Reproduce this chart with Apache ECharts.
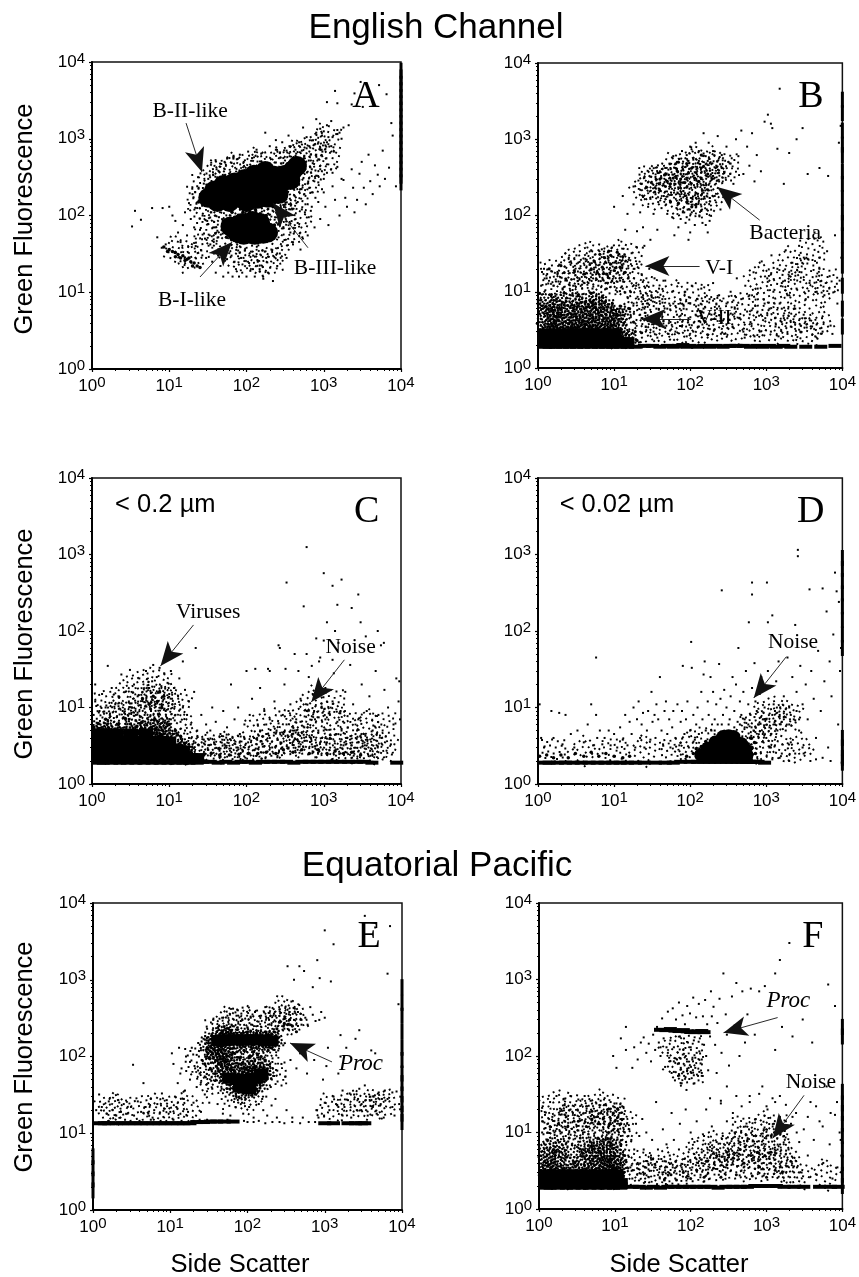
<!DOCTYPE html>
<html><head><meta charset="utf-8">
<style>html,body{margin:0;padding:0;background:#fff}#c{width:859px;height:1277px}</style>
<script src="https://cdn.jsdelivr.net/npm/echarts@6/dist/echarts.min.js"></script>
</head><body><div id="c"></div>
<script>
const tickLabels = {1:'10{s|0}',10:'10{s|1}',100:'10{s|2}',1000:'10{s|3}',10000:'10{s|4}'};
const panelNames = ['A','B','C','D','E','F'];
// All positions below are estimates. The source has thousands of events,
// so the "solid", "core" and "clump" arrays hold the centres of dense patches, each drawn with
// a filled or speckled symbol; the "dots" arrays are single events.

// ---------- Panel A ----------
const A_solid = [];
const A_core = [[32,170],[38,210],[42,150],[50,190],[50,250],[60,150],[65,210],[70,270],[80,170],[90,220],[95,300],[100,150],[115,190],[120,260],[125,340],[140,165],[155,220],[165,300],[175,380],[190,170],[215,240],[230,330],[260,190],[285,270],[320,340],[370,290],[400,390],[450,440],
[62,72],[75,60],[88,80],[98,60],[112,70],[128,56],[145,66],[165,58],[190,60],[92,56],[120,85],[150,80]];
const A_mid = [[24,150],[26,185],[28,140],[33,220],[38,260],[44,130],[50,290],[58,300],[66,135],[78,310],[90,140],[100,320],[115,130],[130,340],[160,150],[200,350],[230,170],[260,390],[300,210],[350,240],[430,290],[480,360],[520,430],[450,470],[90,110],[70,95],[110,110],[150,105],[55,52],[75,45],[110,45],[150,45],[210,50],[230,75],[50,85],[180,100],[220,130],[130,120],[65,110],[95,100],
[12,33],[13,31],[15,30],[17,27],[19,25],[21,24],[23,22],[10,36],[11,34],[14,28],[8.5,39],[9.5,34],[12,29],[16,26],[18,28],[20,22],[25,21]];
const A_clumps = [[24,170],[30,120],[28,250],[38,330],[52,380],[70,420],[100,450],[140,480],[200,480],[280,500],[380,560],[480,620],[800,800],[1100,1050],[500,350],[640,300],[350,200],[450,170],[260,130],[300,100],[200,100],[70,110],[45,90],[30,70],[50,45],[30,40],[70,30],[110,28],[150,25],[200,25],[250,40],[350,60],[450,80],[18,28],[13,35],[100,100],[140,110],[800,450],[1100,600]];
const A_floor = [];
const A_dots = [[3.3,72],[3.6,115],[4.3,88],[6,125],[7,52],[8.2,125],[10,130],[9,42],[8,38],[11,100],[12,85],[13,60],[15,75],[14,45],[16,110],[17,55],[18,145],[19,90],[20,190],[21,70],[22,40],[23,125],[24,230],[25,65],[26,35],[27,100],[28,260],[29,50],[30,28],[31,85],[32,300],[34,42],[35,110],[36,25],[37,340],[39,70],[40,18],[41,400],[42,32],[44,95],[46,22],[47,470],[49,58],[50,16],[52,500],[54,38],[56,27],[58,18],[60,560],[62,100],[64,30],[66,16],[68,600],[70,25],[73,20],[75,540],[78,35],[80,16],[82,620],[85,28],[88,18],[92,500],[95,35],[100,16],[105,680],[108,24],[112,19],[118,560],[122,30],[128,16],[135,720],[140,25],[148,20],[155,640],[160,35],[165,15],[175,1200],[180,28],[190,18],[200,800],[210,36],[220,14],[240,960],[250,22],[270,32],[290,900],[310,48],[330,28],[350,1100],[370,60],[400,42],[430,720],[460,80],[500,36],[540,1400],[570,110],[620,55],[650,800],[700,130],[760,70],[800,1800],[850,150],[900,90],[950,1100],[1000,200],[1050,130],[1100,900],[1150,75],[1250,1700],[1300,240],[1400,160],[1500,1300],[1600,100],[1700,1000],[1800,290],[1900,170],[2000,130],[2100,1500],[2300,400],[2400,230],[2500,110],[2700,160],[2900,350],[3100,500],[3300,230],[3500,140],[3800,620],[4000,280],[4300,190],[4600,450],[5000,340],[5300,240],[5800,700],[6200,300],[7000,420],[7800,1100],[8600,240],
[240,720],[270,650],[300,560],[330,700],[360,800],[400,560],[440,640],[480,900],[520,700],[560,600],[600,750],[640,520],[680,620],[720,480],[760,840],[800,620],[850,540],[900,760],[960,680],[1050,820],[1150,1050],[1250,800],[1350,680],[1450,1150],[600,1050],[700,950],[800,1200],[900,1350],[1000,1250],[1100,1500],[1300,1050],[1600,1200],[1800,1400],[700,400],[800,330],[900,400],[1000,300],[1100,360],[1300,360],[1500,430],[1700,300],[500,220],[560,190],[620,260],[700,200],[780,170],[850,270],[950,220],[320,140],[370,120],[420,180],[460,150],[520,120],[580,140],[640,95],[680,115],
[1400,4200],[1100,3000],[2500,3900],[3000,5500],[5200,5000],[6500,3800],[1500,2900],[2300,2800],[7500,1600],[3200,2600]];
const A_edge = [[10000,270],[10000,330],[10000,400],[10000,490],[10000,600],[10000,730],[10000,890],[10000,1080],[10000,1320],[10000,1600],[10000,1950],[10000,2400],[10000,2900],[10000,3500],[10000,4300],[10000,5200],[10000,6300],[10000,7700]];

// ---------- Panel B ----------
const B_solid = [[1.25,2.15],[1.6,2.15],[2,2.15],[2.5,2.15],[3.2,2.15],[4,2.15],[5,2.15],[6.4,2.15],[8,2.15],[10,2.15],[12.5,2.15],[15,2.15],
[1.25,2.8],[1.6,2.8],[2.1,2.8],[2.6,2.8],[3.4,2.8],[4.2,2.8],[5.2,2.8],[6.4,2.8],[8.2,2.8],[10.2,2.8]];
const B_core = [[1.3,2.4],[1.45,2.5],[1.8,2.4],[2.2,2.55],[2.8,2.4],[3.5,2.5],[4.4,2.4],[5.5,2.55],[6.8,2.4],[8.5,2.5],[10.5,2.4],[13,2.5],[16,2.4],
[1.3,3.1],[1.5,3.2],[1.85,3],[2.4,3.2],[3,3],[3.8,3.2],[4.8,3],[6,3.2],[7.5,3],[9.5,3.2],[12,3],
[1.3,3.9],[1.55,4],[2,3.8],[2.6,4.1],[3.3,3.8],[4.2,4.1],[5.4,3.8],[6.8,4],[8.6,3.8],[11,4],
[1.3,5],[1.65,5.1],[2.2,4.9],[3,5.2],[3.9,4.9],[5,5.2],[6.5,4.9],[8.5,5.1],[11,4.9],[13.5,5.2],
[1.3,6.3],[1.7,6.5],[2.4,6.2],[3.4,6.6],[4.6,6.1],[6.2,6.5],[8.3,6.1],
[1.3,7.6],[1.9,7.6],[2.9,7.8],[4.2,7.6],[6,7.5]];
const B_mid = [[1.05,9.5],[1.5,9.2],[2.2,9.6],[3.4,9.2],[5,9.5],[7,8.5],[9.5,7],[12,6.5],[16,6],[18,4],[19,3],[20,2.3],[23,2.9],
[1.4,20],[2,22],[3,19],[4,17],[5,20],[6,18],[7,21],[8,17],[9,23],[10,19],[12,21],[14,18],[5.5,25],[7.5,28],[9,30],[6.5,31],[8.5,34],[11,33],[13,29],
[40,300],[46,340],[50,280],[55,260],[60,310],[68,380],[75,300],[85,270],[95,360],[105,420],[115,310],[130,280],[150,440],[170,350],[70,500],[90,480],[140,620],
[55,150],[70,145],[90,150],[105,130],[120,140]];
const B_clumps = [[1.6,13],[2.4,13],[3.7,13],[6,13],[9.5,13],[14,13],[1.6,19],[2.6,20],[4.2,19],[6.6,20],[10,20],[15,19],[3.6,28],[6,30],[10,30],[16,30],[22,9],[20,5],[25,3],[33,6],[42,3],[55,5],[75,3],[100,5],[130,3],[175,6],[230,3.2],[300,6],[400,3.2],[520,7],[700,3.5],[900,7],[1200,3.2],[1600,6],[2100,3.2],[2800,5],[3700,3],[5000,4],[30,11],[60,9],[120,9],[800,15],[1500,14],[2500,12],[3500,20],[5000,10],[6000,14],[2000,25],[4000,35],
[35,280],[50,330],[70,300],[100,320],[140,340],[190,350],[60,430],[90,470],[130,520],[55,210],[75,230],[110,240],[160,230],[65,145],[100,140],[25,220],[30,300],[35,190],[250,400],[200,500],[300,450],[170,160],[130,130]];
const B_floor = [[1.25,1.9],[1.4,1.9],[1.7,1.9],[2.1,1.9],[2.6,1.9],[3.2,1.9],[4,1.9],[5,1.9],[6.2,1.9],[7.7,1.9],[9.5,1.9],[12,1.9],[15,1.9],[19,1.9],[25,1.95],[32,1.95],[40,1.9],[50,1.95],[60,1.9],[70,1.95],[80,2],[90,1.9],[100,1.95],[125,1.9],[150,1.95],[180,1.9],[220,1.95],[270,1.9],[330,1.95],[400,1.95],[500,1.95],[620,1.9],[750,1.95],[900,1.9],[1100,1.95],[1350,1.9],[1700,1.95],[2100,1.9],[3300,1.9],[5200,1.9],[8000,1.95]];
const B_dots = [[1.1,12],[1.3,15],[1.2,20],[1.6,12],[1.8,17],[2.1,11],[2.4,14],[2.7,25],[2.9,12],[3.2,30],[3.5,15],[3.8,11],[4.2,27],[4.6,13],[5,35],[5.2,11],[5.8,15],[6.2,12],[6.9,36],[7.3,14],[7.9,11],[8.7,15],[9.4,38],[10,13],[10.5,25],[11,10],[12,14],[13,11],[14,25],[15,8.5],[15.5,15],[16.5,10],[17,32],[18,7],[18.5,20],[19.5,12],[20,38],[21,8],[22,5],[23,17],[24,9],[25,6],[26,3.5],[27,12],[28,7],[29,20],[30,4.5],[31,9],[33,3],[34,15],[36,6],[37,2.5],[39,11],[41,5],[43,8],[45,3.5],[47,14],[50,6],[52,2.8],[55,4],[58,10],[60,7],[64,3],[67,5],[70,13],[74,8],[78,3.5],[82,6],[86,10],[90,2.6],[95,4.5],[100,7],[105,12],[110,3],[118,5],[125,8],[130,3.5],[140,11],[150,6],[160,4],[170,2.7],[180,8],[190,5],[200,13],[210,3.2],[225,6],[240,9],[260,4],[280,2.8],[300,7],[320,5],[340,10],[360,3.5],[385,6],[410,15],[440,4.5],[470,8],[500,3],[530,12],[560,5.5],[600,9],[640,3.8],[680,18],[720,6.5],[770,11],[820,3],[870,25],[920,8],[970,4.5],[1030,15],[1100,6],[1170,30],[1240,10],[1320,3.5],[1400,20],[1500,7],[1600,13],[1700,4.5],[1800,35],[1900,9],[2000,16],[2100,3.5],[2200,24],[2400,6],[2500,11],[2700,40],[2900,18],[3100,5],[3300,8],[3500,27],[3700,13],[4000,3.5],[4300,60],[4600,10],[5000,20],[5400,4.5],[5800,9],[6300,34],[6800,16],[7400,2.8],[8000,55],[8600,7],[9200,14],[9700,28],
[520,2.5],[620,4],[700,2.6],[850,5],[950,7],[1150,3],[1300,4.5],[1450,2.6],[1600,6],[1900,2.8],[2300,4],[2800,3],[3400,3.4],[4400,2.6],[5500,3],[7000,3.6],
[10,130],[13,180],[15,105],[14,65],[18,140],[18,240],[20,62],[22,110],[24,175],[24,70],[25,40],[26,230],[28,130],[30,165],[30,48],[32,260],[33,105],[35,190],[35,320],[37,65],[38,150],[40,220],[40,380],[42,125],[45,180],[47,420],[48,240],[50,105],[52,340],[54,470],[56,200],[58,95],[60,600],[62,250],[64,420],[66,125],[68,200],[70,70],[72,550],[75,230],[78,700],[80,110],[82,350],[85,180],[87,80],[90,620],[92,240],[95,48],[98,410],[100,800],[102,170],[105,110],[110,540],[112,250],[115,75],[118,900],[120,360],[125,190],[130,700],[132,100],[135,470],[140,250],[145,80],[150,1200],[155,380],[160,600],[165,120],[170,220],[175,900],[180,85],[185,500],[190,310],[200,700],[210,180],[220,450],[230,1100],[240,280],[250,120],[260,620],[280,360],[300,800],[320,160],[340,480],[370,260],[400,1000],[430,600],[470,1300],[500,350],[560,800],[600,450],[650,1200],[700,280],[750,620],[850,380],[950,1700],[1050,2100],[1150,1600],[1200,1400],[1500,4600],[1400,750],[1700,260],[2000,660],[2500,1000],[3000,1400],[3500,350],[5000,420],[6500,330],[9000,900],[9500,1500],
[150,650],[170,520],[130,520],[110,430],[95,520],[80,440],[65,330],[55,420],[120,170],[150,200],[180,170],[200,330],[240,390],[260,420],[120,130],[140,115],[160,75],[170,60],[90,95],[100,60],[62,55],[75,90]];
const B_edge = [[10000,3.5],[10000,6],[10000,12],[10000,22],[10000,35],[10000,55],[10000,80],[10000,110],[10000,170],[10000,260],[10000,380],[10000,620],[10000,850],[10000,1300],[10000,2200],[10000,3300]];

// ---------- Panel C ----------
const C_solid = [[1.25,2.15],[1.6,2.15],[2,2.15],[2.5,2.15],[3.2,2.15],[4,2.15],[5,2.15],[6.4,2.15],[8,2.15],[10,2.15],[12.5,2.15],[15.5,2.15],[19,2.15],[23,2.15],
[1.25,2.8],[1.6,2.8],[2,2.8],[2.5,2.8],[3.2,2.8],[4,2.8],[5,2.8],[6.4,2.8],[8,2.8],[10,2.8],[12.5,2.8],[15,2.7],
[1.25,3.6],[1.6,3.6],[2,3.6],[2.5,3.6],[3.2,3.6],[4,3.6],[5,3.6],[6.4,3.6],[8,3.6],[10,3.5],
[1.25,4.5],[1.6,4.5],[2.1,4.5],[3.2,4.5],[5,4.5]];
const C_core = [[1.3,2.4],[1.45,2.5],[1.8,2.4],[2.3,2.5],[2.9,2.4],[3.7,2.5],[4.7,2.4],[6,2.5],[7.6,2.4],[9.6,2.5],[12,2.4],[15,2.4],[18,2.35],
[1.3,3],[1.45,3.1],[1.8,3],[2.3,3.1],[2.9,3],[3.7,3.1],[4.7,3],[6,3.1],[7.6,3],[9.6,3.1],[12,3],[15,2.9],
[1.3,3.7],[1.45,3.8],[1.8,3.6],[2.3,3.8],[2.9,3.7],[3.7,3.8],[4.7,3.7],[6,3.8],[7.6,3.7],[9.6,3.8],[12,3.6],
[1.3,4.5],[1.5,4.6],[2.1,4.4],[2.9,4.6],[3.9,4.5],[5.2,4.7],[7,4.5],[9.2,4.7],
[1.3,5.4],[1.7,5.5],[3.4,5.6],[5.8,5.8],[8,5.6]];
const C_mid = [[1.05,5.5],[1.2,6.2],[1.5,7],[2.2,6],[2.7,7.2],[4.4,6.4],[6.5,7],[10,6],[12,5],[14,4.2],[16,3.4],[19,2.6],[23,2.4],[28,2.4],[35,2.5],[45,2.4],[60,2.4],[80,2.45],[105,2.5],[140,2.5],[180,2.6],[240,2.5],[300,2.8],[400,2.6],[520,2.8],[650,2.5],[850,2.8],[1100,2.5],[1400,2.7],[1800,2.5],[2300,2.6],[3000,2.4],[6.2,14],[7.5,16],[7,12],[8.5,14],[5.5,11],[8,10],[4.5,13]];
const C_clumps = [[1.6,7.5],[2.3,8.5],[3.6,8],[5.5,9],[8,9],[12,7],[1.6,12],[2.6,13],[4.2,13],[6.2,14],[9,13],[13,11],[4,20],[7,22],[17,4],[22,3],[28,3],[38,3],[50,3],[66,3],[88,3],[115,3],[150,3],[200,3.2],[260,3.5],[340,3.4],[440,3.6],[570,3.4],[740,3.5],[960,3.4],[1250,3.2],[1600,3.2],[2100,3],[2800,2.9],[3700,2.8],[5000,3],[6000,3],[150,6],[300,6.5],[500,7],[800,7.5],[1300,7],[2200,6],[3800,6],[6000,6],[700,12],[1300,12],[6,6],[3,5.8]];
const C_floor = [[1.25,1.9],[1.4,1.9],[1.8,1.9],[2.3,1.9],[2.9,1.9],[3.7,1.9],[4.7,1.9],[6,1.9],[7.6,1.9],[9.6,1.9],[12,1.9],[15,1.9],[18,1.9],[23,1.9],[27,1.95],[34,1.95],[43,1.9],[54,1.95],[68,1.9],[85,1.95],[105,1.95],[130,1.9],[165,1.95],[205,1.95],[260,1.95],[330,1.95],[410,1.9],[520,1.95],[650,1.95],[820,1.95],[1030,1.95],[1300,1.95],[1650,1.95],[2100,1.95],[2650,1.95],[3300,1.95],[4200,1.9],[8800,1.9]];
const C_dots = [[1.05,8],[1.1,12],[1.1,20],[1.25,9],[1.35,15],[1.5,10],[1.6,35],[1.7,8],[1.8,18],[2,11],[2.1,7.5],[2.2,14],[2.4,27],[2.5,9],[2.7,16],[2.9,8],[3,12],[3.1,31],[3.3,10],[3.5,20],[3.7,8],[3.9,14],[4.1,24],[4.3,10],[4.5,16],[4.8,8],[5,30],[5.2,12],[5.5,18],[5.8,9],[6,22],[6.2,36],[6.6,11],[6.9,25],[7.2,8],[7.5,33],[7.9,19],[8.2,12],[8.6,28],[9,9],[9.5,21],[10,15],[10.5,30],[10.5,7],[11,11],[11.5,18],[12,8],[13,14],[13.5,24],[14,6.5],[15,10],[15,40],[16,17],[16,5],[17,8],[18,12],[18,4],[19,6],[20,3.3],[21,16],[22,60],[23,5],[24,3.2],[26,8],[28,3.8],[30,6],[32,2.8],[34,5],[36,10],[38,3.5],[40,6.5],[43,2.9],[46,4.5],[50,9],[52,3.3],[56,5.5],[60,2.9],[63,20],[66,4],[70,7],[74,3],[78,10],[82,4.5],[88,2.8],[94,6],[100,30],[105,3.5],[110,8],[118,13],[125,4],[132,2.9],[140,6],[150,18],[160,3.3],[170,9],[180,4.5],[190,32],[200,7],[215,3],[230,12],[245,5],[260,65],[275,3.5],[295,8],[310,20],[330,6],[350,3],[370,11],[390,4.5],[420,50],[440,7],[470,30],[500,13],[530,3.5],[560,5.5],[600,9],[640,25],[680,4],[720,15],[770,7],[820,3.2],[870,40],[930,10],[1000,5],[1050,18],[1100,3.5],[1200,8],[1300,12],[1350,28],[1450,4.5],[1550,70],[1650,9],[1800,3.2],[1900,16],[2050,5.5],[2200,36],[2400,11],[2600,4],[2800,7],[3100,20],[3400,3.2],[3600,9],[3900,14],[4300,5],[4700,30],[5100,8],[5600,4],[6100,17],[6800,10],[7400,3.3],[8000,6],[8700,24],[9300,12],[9700,7],
[600,1250],[1000,570],[1300,390],[1700,470],[330,430],[1500,220],[2800,300],[2300,200],[550,210],[1100,130],[3000,130],[1400,100],[5000,100],[270,60],[800,80],[1000,75],[3500,85],[5500,65],[6000,70],[9500,22],[700,35],[900,45],[600,50],[200,30],[320,32],[130,32],[1300,42],
[150,5],[180,6],[200,4],[260,6.2],[300,4.5],[350,9],[420,5],[450,3.8],[500,6.5],[550,4.4],[620,5.5],[700,3.3],[750,9],[850,5],[950,4],[1050,7],[1200,4],[1500,6.5],[1700,5],[2000,4],[2300,3.2],[2700,5],[3300,4.5],[5000,3]];
const C_edge = [];

// ---------- Panel D ----------
const D_solid = [];
const D_core = [[140,2.4],[170,2.45],[205,2.4],[250,2.45],[300,2.4],[350,2.45],[410,2.4],[480,2.4],[550,2.4],
[170,2.9],[205,3],[250,2.9],[300,3],[350,2.9],[410,3],[480,2.9],[530,2.8],
[215,3.5],[260,3.6],[310,3.5],[360,3.6],[420,3.4],[470,3.3],[270,4.1],[320,4.2],[370,4.1]];
const D_mid = [[1.05,2.3],[1.3,2.4],[1.6,2.2],[2,2.4],[2.5,2.2],[3.1,2.5],[4,2.3],[5,2.6],[6.3,2.3],[7.8,2.5],[10,2.3],[13,2.2],[16,2.3],[90,2.3],[110,2.5],[120,2.9],[140,3.1],[160,3.6],[200,4],[280,4.9],[340,4.8],[430,4.4],[500,3.8],[560,3.4],[600,2.6],[650,3],[700,3.5],[620,4],[720,2.5]];
const D_clumps = [[1.6,2.7],[4,2.7],[10,2.7],[25,2.7],[60,2.7],[100,3],[150,4],[560,4.5],[700,6],[1000,5],[1400,7],[2000,8],[1100,9],[600,2.8],[800,3],[1500,3],[2600,3]];
const D_floor = [[1.25,1.9],[1.4,1.9],[1.8,1.9],[2.3,1.9],[2.9,1.9],[3.7,1.9],[4.7,1.9],[6,1.9],[7.6,1.9],[9.6,1.9],[12,1.9],[15,1.9],[19,1.9],[25,1.9],[35,1.9],[47,1.9],[60,1.9],[75,1.95],[100,1.95],[125,1.95],[150,1.95],[180,1.95],[210,1.95],[250,1.95],[300,1.95],[350,1.95],[410,1.95],[480,1.95],[550,1.95],[600,1.95],[680,1.95],[780,1.95],[950,1.9]];
const D_dots = [[1.05,11],[1.1,4],[1.2,3],[1.5,9],[1.6,4],[1.9,8.5],[2.1,3.3],[2.3,8],[2.7,4.5],[3,3],[3.3,5],[4,3.5],[4.5,6],[5,11],[5.3,3.2],[5.8,45],[5.8,8],[6,4],[6.5,5],[7,3.3],[7.5,4],[8.5,5],[9,3.2],[10,4.5],[11,3],[12,5.5],[13,3.8],[14,8],[15,3.2],[16,6.5],[17,4.5],[18,10],[19,3],[20,7],[21,12],[22,4],[23,6],[24,8.5],[25,3],[27,5],[28,9],[30,3.8],[31,16],[32,6.5],[34,8],[35,4],[36,11],[38,7],[40,25],[42,5],[44,3.3],[46,9],[48,12],[50,4.5],[53,7],[55,3],[58,5.5],[60,9],[64,4],[68,11],[72,3.2],[75,6.5],[78,9],[80,35],[84,4.5],[88,7],[92,12],[96,3],[100,5],[103,72],[105,33],[110,8],[115,3.8],[120,6],[125,10],[130,4.5],[140,16],[145,7],[150,27],[155,40],[160,5],[170,12],[175,8],[185,25],[190,5],[200,16],[210,7],[220,11],[230,6],[240,37],[250,13],[260,340],[270,8],[280,17],[300,10],[320,6],[340,14],[360,25],[380,9],[400,20],[420,6.5],[430,60],[450,12],[470,8],[500,16],[520,7],[540,30],[580,11],[590,130],[620,8],[650,300],[650,430],[650,18],[680,5],[700,38],[720,12],[750,9],[780,6],[820,15],[860,25],[900,4.5],[950,10],[1000,7],[1020,430],[1050,30],[1050,130],[1100,18],[1150,3],[1200,160],[1250,11],[1300,6],[1350,22],[1450,40],[1500,8],[1600,2.5],[1700,14],[1800,5],[1900,45],[2000,10],[2100,3.5],[2200,25],[2300,7],[2400,120],[2500,16],[2600,1150],[2600,950],[2700,5],[2800,35],[3000,11],[3100,2.5],[3300,20],[3500,7],[3700,350],[3900,30],[4200,13],[4500,4],[4800,55],[5200,9],[5500,360],[5800,22],[6200,180],[6500,3],[6800,40],[7200,14],[7600,90],[8000,580],[8400,330],[8800,6],[9000,240],[9300,30],[9600,60],[9800,1.9],
[800,6],[900,7],[1000,4],[1100,5.5],[1200,8],[1300,9],[1400,5],[1600,6.5],[1700,7.5],[1800,9.5],[2000,6],[2100,8],[2400,6.8],[2500,9],[2700,7],[700,7.5],[640,5.5],[580,6],[520,5.5],[450,6],[380,5.5],[330,7],[260,6],[210,5],[1100,3],[1300,3.2],[1500,2.2],[2000,2],[2400,2.5],[3000,3],[3800,2],[4500,2.1],[5500,2.2],[7000,2],[1200,2.1]];
const D_edge = [[10000,1.9],[10000,2.2],[10000,3],[10000,4],[10000,60],[10000,90],[10000,140],[10000,210],[10000,310],[10000,450],[10000,650],[10000,900]];

// ---------- Panel E ----------
const E_solid = [[42,162],[52,165],[64,165],[78,165],[95,165],[115,165],[140,165],[170,162],[205,160],[58,52],[72,50],[88,50],[105,50],[128,52],[152,58],[80,40],[105,38]];
const E_core = [[35,150],[42,165],[50,175],[60,170],[70,160],[80,170],[95,165],[110,170],[130,165],[150,165],[175,160],[200,160],[230,165],[40,130],[55,125],[36,115],[48,100],[30,140],[42,190],[60,200],[40,100],
[55,60],[65,50],[75,55],[85,45],[95,60],[110,50],[125,60],[140,55],[160,60],[65,40],[85,35],[110,38],[140,42],[50,72],[180,62],[60,85],[100,72],[130,78],[75,68],[120,45]];
const E_mid = [[30,130],[32,95],[28,80],[33,70],[38,60],[42,80],[45,48],[68,110],[80,95],[90,120],[105,100],[120,115],[135,105],[150,100],[170,90],[185,120],[200,130],[100,210],[130,200],[170,210],[190,190],[220,210],[240,230],[260,280],[300,270],[330,260],[380,250],[430,210]];
const E_clumps = [[22,90],[30,60],[40,220],[55,280],[80,300],[110,290],[150,290],[200,280],[250,300],[320,300],[400,300],[300,400],[35,45],[45,65],[55,95],[75,105],[100,100],[125,105],[150,110],[180,95],[90,130],[60,140],[40,90],[220,60],[100,28],[65,30],[2,21],[4,21],[7,21],[11,22],[17,22],[1.6,21],[3000,23],[2000,23],[4500,24],[6000,24],[1200,22]];
const E_floor = [[1.25,13.5],[1.4,13.5],[1.6,13.5],[2,13.5],[2.4,13.5],[2.9,13.5],[3.5,13.5],[4.2,13.5],[5,13.5],[6,13.5],[7.2,13.5],[8.6,13.5],[10.5,13.5],[12.5,13.5],[15,13.5],[18,13.5],[22,14],[27,14],[33,14.2],[40,14.2],[50,14.2],[65,14.2],[1000,13.5],[1300,13.5],[2000,13.5],[2500,13.5],[3000,13.5],[3300,13.5]];
const E_dots = [[1.1,20],[1.2,32],[1.3,22],[1.5,18],[1.6,26],[1.8,20],[2,17],[2.1,27],[2.3,19],[2.5,24],[2.8,18],[3.1,22],[3.3,78],[3.4,17],[3.8,26],[4.2,19],[4.5,45],[4.8,22],[5.2,18],[5.6,28],[6.2,20],[6.8,24],[7.3,18],[7.8,33],[8.3,21],[9,27],[10,19],[10.5,110],[11,80],[11.5,30],[12,22],[12.5,45],[13,130],[13.5,60],[14,70],[15,28],[15.5,36],[16,100],[17,19],[18,50],[18,85],[19,130],[20,25],[21,70],[22,40],[22,105],[23,150],[24,60],[25,19],[26,90],[27,170],[28,32],[28,55],[30,230],[31,45],[32,25],[34,185],[35,38],[36,300],[38,48],[40,210],[41,24],[43,250],[45,36],[47,320],[48,18],[50,240],[52,30],[55,340],[58,38],[60,17],[62,260],[65,420],[68,28],[70,22],[72,340],[75,400],[78,30],[82,290],[85,25],[88,18],[92,230],[95,28],[100,240],[105,22],[110,320],[115,30],[120,16],[125,380],[130,32],[135,250],[140,24],[150,340],[155,28],[160,20],[170,440],[175,30],[180,17],[190,300],[200,40],[205,23],[220,360],[230,28],[240,16],[250,120],[260,410],[275,80],[290,140],[300,230],[310,55],[320,20],[330,1500],[345,300],[360,90],[370,520],[380,16],[400,1000],[410,420],[430,70],[450,380],[470,1500],[480,110],[500,260],[520,16],[540,1300],[560,320],[590,60],[620,140],[650,440],[700,800],[730,90],[760,290],[780,20],[800,1800],[830,16],[860,1050],[900,380],[950,50],[980,17],[1000,4400],[1050,75],[1100,130],[1150,20],[1200,950],[1300,2900],[1400,24],[1500,60],[1600,100],[1700,17],[1800,22],[1900,130],[2000,27],[2200,16],[2400,32],[2600,20],[2800,38],[3000,24],[3300,6800],[3400,27],[3600,17],[3900,30],[4200,22],[4500,4800],[4700,18],[5000,34],[5300,24],[5800,16],[6500,1200],[6500,28],[7000,5000],[7500,22],[8000,17],[8500,35],[9000,480],[9200,24],
[300,320],[350,380],[400,300],[450,250],[500,300],[600,260],[700,350],[850,300],[1000,320],[2500,170],[3000,90],[4000,120],[4500,110],[1600,190],[2800,220],[1700,36],[2100,33],[2700,28],[3300,42],[4300,30],[5500,28],[6000,36],[7500,34],[9500,30],[1000,25],[1300,30],[1500,22],
[1.6,14.5],[2.6,15],[4,14.5],[5.6,15],[7.5,14.5],[11,15],[14,14.5],[20,14.5],[24,15],[30,15],[37,14],[45,14],[55,15],[75,14],[90,14.5],[100,14],[120,14],[140,14.5],[170,13.5],[210,14],[260,14],[300,13.5],[380,14],[480,13.5],[620,14],[750,14],[880,13.5]];
const E_edge = [[1,1.8],[1,2.5],[1,3.5],[1,5],[10000,14],[10000,18],[10000,24],[10000,32],[10000,45],[10000,60],[10000,90],[10000,130],[10000,210],[10000,340],[10000,500],[10000,800]];

// ---------- Panel F ----------
const F_solid = [[1.25,2.15],[1.6,2.15],[2,2.15],[2.5,2.15],[3.2,2.15],[4,2.15],[5,2.15],[6.4,2.15],[8,2.15],[10,2.15],[12,2.15],
[1.25,2.8],[1.6,2.8],[2.2,2.8],[3.2,2.8],[4.5,2.8],[6,2.8],[8.5,2.8],[10.5,2.8]];
const F_core = [[1.3,2.4],[1.45,2.45],[1.8,2.4],[2.3,2.45],[2.9,2.4],[3.7,2.45],[4.7,2.4],[6,2.45],[7.6,2.4],[9.6,2.45],[11,2.4],
[1.3,3.1],[1.5,3.2],[2,3],[2.6,3.2],[3.5,3.1],[4.5,3.2],[5.8,3.1],[7.4,3.2],[9.5,3.1],[11,3.2],
[1.3,4],[1.6,4.1],[2.4,3.9],[3.8,4.1],[5,3.9],[6.4,4.1],[8.2,3.9],[10.5,4.1],[11,4],
[1.3,5.2],[1.8,5.3],[3,5.2],[4.5,5.4],[6,5.2],[8,5.4],[10.5,5.2],
[1.3,6.4],[1.9,6.6],[4,6.4],[5.6,6.8],[7.5,6.5],[9.8,6.6]];
const F_mid = [[1.4,12],[1.8,13],[2.4,12],[3.3,14],[4.2,12],[5,15],[6,13],[7,15],[8.5,13],[10,14],[11,16],[12,13],[6.5,18],[8,20],[9.5,18],[11,20],[5,19],[3.5,8.5],[1.3,8],[2.5,8.5],[6,8.5],[9,8.5],[12,7],[13,3],[14,2.2],[13.5,5],
[45,2.4],[55,2.8],[65,2.4],[80,3],[100,2.5],[120,3.2],[150,2.6],[200,3.4],[250,2.6],[300,3.8],[400,2.8],[500,4],[650,2.7],[800,3.6],[1000,2.6],[1300,3.2],[160,4.2],[220,5],[300,5.5],[360,4.6],[450,6],[520,6.5],[620,5],[760,5.5],[950,5],[1150,5.5]];
const F_clumps = [[1.6,10],[2.3,10],[3.7,10],[6,10],[9.5,10],[12,9],[1.6,15],[2.5,16],[4,16],[6.5,16],[10,15],[12.5,14],[1.6,23],[3,22],[5.5,23],[9,22],[15,3],[20,4],[27,3],[36,3],[48,4],[65,3],[88,4],[120,3.3],[160,4.5],[200,3.3],[270,4.5],[350,3.5],[470,5],[620,3.5],[800,4.5],[1050,3.5],[1400,4],[1900,3],[2600,2.8],[150,6.5],[250,7],[400,7.5],[600,7],[900,7],[1300,7],[1700,5],[500,11],[900,12],[1300,12],[60,130],[100,130],[70,70],[100,60],[6000,2.8]];
const F_floor = [[1.25,1.9],[1.4,1.9],[1.8,1.9],[2.3,1.9],[2.9,1.9],[3.7,1.9],[4.7,1.9],[6,1.9],[7.6,1.9],[9.6,1.9],[12,1.9],[17,1.95],[21,1.95],[26,1.9],[32,1.95],[40,1.9],[50,1.95],[62,1.95],[78,1.95],[96,1.95],[120,1.95],[150,1.95],[185,1.95],[230,1.9],[290,1.95],[360,1.95],[450,1.95],[560,1.95],[700,2],[870,2],[1080,2],[1350,2],[1700,1.95],[2300,1.95],[3100,1.95],[5000,1.95],[7000,1.95],[8800,1.95],
[40,220],[47,218],[54,225],[62,215],[70,212],[80,218],[90,210],[100,206],[112,205],[125,210],[140,212],[150,205]];
const F_dots = [[1.1,10],[1.1,14],[1.1,21],[1.2,17],[1.3,10],[1.4,25],[1.5,16],[1.6,10],[1.7,30],[1.9,19],[2,10],[2.1,27],[2.3,16],[2.5,10],[2.6,30],[2.8,18],[3,10],[3,23],[3.3,27],[3.6,17],[3.8,10],[4,30],[4.3,22],[4.5,9.5],[4.8,26],[5,17],[5.5,10],[5.7,24],[6,16],[6.5,26],[7,10],[7.3,23],[8,17],[8.5,10],[8.8,25],[9.5,22],[10,10],[10.5,24],[11,11],[11.5,18],[12,9],[12.5,22],[13,15],[13.5,10],[14,7.5],[14.5,13],[15,5],[15.5,11],[16,3.5],[16.5,8],[17,2.5],[18,6],[19,13],[20,4],[21,9],[22,2.9],[23,15],[24,6],[25,3.5],[26,10],[28,2.6],[30,5],[31,8],[33,3.5],[35,25],[37,6],[39,2.6],[41,4.5],[43,11],[46,3.2],[48,7],[50,2.8],[53,5],[56,18],[58,3.5],[60,8],[65,2.9],[70,6],[72,13],[76,3.5],[82,4.5],[86,20],[90,2.7],[96,6],[100,10],[105,3.5],[112,7.5],[120,14],[125,4],[135,2.8],[140,5.5],[150,9],[160,20],[170,3.3],[180,6.5],[190,12],[205,4],[220,7.5],[235,2.8],[250,26],[265,9],[280,4.5],[300,14],[320,7],[340,3.2],[360,18],[380,10],[410,5],[440,7.5],[470,22],[500,3.5],[530,12],[560,8],[600,30],[640,4.5],[680,9],[720,15],[770,6.5],[820,3.5],[880,40],[920,11],[970,7],[1030,20],[1100,4.5],[1150,9],[1250,13],[1300,25],[1400,6],[1500,16],[1600,3],[1700,9],[1800,23],[1950,6],[2100,13],[2250,3.5],[2450,18],[2700,7.5],[2900,3],[3100,11],[3500,5],[3800,25],[4200,8],[4600,2.8],[5000,14],[5600,4],[6200,40],[6800,7],[7400,2.5],[8000,17],[8600,3.5],[9200,10],[9700,5],
[14,240],[12,170],[10.5,70],[9.5,100],[14,120],[17,70],[18,130],[20,90],[22,150],[24,175],[26,110],[28,145],[30,85],[32,190],[34,120],[36,240],[38,150],[40,100],[42,310],[44,170],[46,72],[48,130],[50,380],[52,95],[54,160],[56,60],[58,420],[60,130],[62,48],[64,300],[66,90],[68,55],[70,500],[72,180],[74,70],[76,44],[78,340],[80,120],[82,55],[84,260],[86,100],[88,36],[90,450],[92,150],[94,70],[96,50],[98,360],[100,130],[102,60],[105,90],[108,580],[110,160],[112,44],[115,70],[118,320],[120,110],[125,55],[128,480],[132,170],[135,80],[140,60],[145,330],[150,140],[155,540],[160,100],[165,260],[170,65],[180,180],[185,700],[190,330],[200,440],[210,140],[225,270],[240,560],[255,110],[270,1200],[290,350],[300,190],[320,75],[350,600],[380,250],[400,900],[440,100],[480,700],[520,150],[560,350],[620,760],[700,190],[800,700],[950,820],[1300,1200],[1500,1800],[2000,3000],[2200,180],[1600,240],[1300,120],[3000,300],[4000,150],[6500,860],[8000,450],
[80,62],[90,68],[100,62],[110,56],[70,58],[60,62],[130,62],[140,55],[40,130],[50,110],[60,85],[70,80],[115,95],[130,115],[140,90],[220,60],[300,40],[400,30],[250,24],[180,28],[600,25],[800,32],[1000,22],[1200,28],[1500,30],[1800,14],[2200,16],[2500,10],[3000,40],[3500,16],[4500,22],[5500,12],[7000,18],[8500,25],[9500,8]];
const F_edge = [[10000,2],[10000,2.8],[10000,4],[10000,6],[10000,9],[10000,13],[10000,18],[10000,24],[10000,34],[10000,180],[10000,240]];

const solidSets = [A_solid,B_solid,C_solid,D_solid,E_solid,F_solid];
const coreSets = [A_core,B_core,C_core,D_core,E_core,F_core];
const midSets = [A_mid,B_mid,C_mid,D_mid,E_mid,F_mid];
const clumpSets = [A_clumps,B_clumps,C_clumps,D_clumps,E_clumps,F_clumps];
const floorSets = [A_floor,B_floor,C_floor,D_floor,E_floor,F_floor];
const dotSets = [A_dots,B_dots,C_dots,D_dots,E_dots,F_dots];
const edgeSets = [A_edge,B_edge,C_edge,D_edge,E_edge,F_edge];

// speck layout of the patch symbol, on a 100-unit square
const speckLayout = [[2,4],[22,12],[41,2],[63,9],[88,5],[12,30],[33,26],[55,34],[78,27],[92,38],[4,55],[26,50],[47,58],[70,52],[90,62],[15,76],[38,72],[60,80],[82,74],[6,92],[30,95],[52,90],[75,96],[93,88]];
const specks = u => 'path://M0 0h.01v.01h-.01zM100 100h.01v.01h-.01z'+speckLayout.map(p=>`M${p[0]} ${p[1]}h${u}v${u}h-${u}z`).join('');
const cloudSymbol = specks(7.5), denseSymbol = specks(13);
const coreSymbols = ['circle',denseSymbol,denseSymbol,'circle',denseSymbol,denseSymbol];
const coreSizes = [20,17,17,14,17,17];
const midSizes = [3.5,3.2,3.5,3.5,3.2,3];

// arrows: [panel, fromX, fromY, tipX, tipY]
const arrows = [
 [0,16.5,1600,26.5,369],[0,625,38,220,146],[0,25,15.8,65,45],
 [1,818,87,227,236],[1,133,21.8,25.8,21.8],[1,102,4.4,22.9,4.4],
 [2,20.6,120,7.7,35],[2,1850,42,690,11.8],
 [3,1830,46,684,13.3],
 [4,1240,85,355,150],
 [5,1400,318,271,202],[5,3125,30.6,1205,8.4]];
// notes: [panel, x, y, text, style]
const notes = [
 [0,18.6,2300,'B-II-like','n'],[0,1400,20.7,'B-III-like','n'],[0,19.7,7.9,'B-I-like','n'],[0,3520,3500,'A','L'],
 [1,1770,59,'Bacteria','n'],[1,241,20.5,'V-I','n'],[1,207,4.5,'V-II','n'],[1,3850,3580,'B','L'],
 [2,32,177,'Viruses','n'],[2,2230,62,'Noise','n'],[2,8.9,4430,'< 0.2 µm','S'],[2,3600,3590,'C','L'],
 [3,2250,70,'Noise','n'],[3,10.9,4430,'< 0.02 µm','S'],[3,3850,3590,'D','L'],
 [4,2940,80,'Proc','i'],[4,3740,3600,'E','L'],
 [5,1940,529,'Proc','i'],[5,3850,45,'Noise','n'],[5,4090,3600,'F','L']];

const sans = '"Liberation Sans",Arial,sans-serif', serif='"Liberation Serif","Times New Roman",serif';
const noteStyle = {
 n:{fontFamily:serif,fontSize:21.5,color:'#000'},
 i:{fontFamily:serif,fontSize:23,fontStyle:'italic',color:'#000'},
 L:{fontFamily:serif,fontSize:38,color:'#000'},
 S:{fontFamily:sans,fontSize:25.5,color:'#000'}};
const boxes = [[92,62,309,307],[538,63,309,305],[92,478,309,306],[538,478,309,306],[93,903,309,307],[539,903,309,306]];

const grid=[],xAxis=[],yAxis=[],series=[];
const axisBase = {type:'log',logBase:10,min:1,max:10000,
  axisLine:{show:true,onZero:false,lineStyle:{color:'#000',width:2}},
  axisTick:{show:true,length:3,inside:false,lineStyle:{color:'#000',width:1.2}},
  minorTick:{show:true,splitNumber:9,length:2,lineStyle:{color:'#000',width:1}},
  splitLine:{show:false},minorSplitLine:{show:false}};
const rich = {s:{fontSize:15,fontFamily:sans,color:'#000',verticalAlign:'top',lineHeight:14,padding:[0,0,18,0]}};
const tickFmt = v=>tickLabels[Math.round(v)]||'';
const rot = (v,p)=>(p.dataIndex*47)%360;
boxes.forEach((b,i)=>{
  grid.push({left:b[0],top:b[1],width:b[2],height:b[3],show:true,borderColor:'#111',borderWidth:1.5,backgroundColor:'transparent'});
  xAxis.push({...axisBase,gridIndex:i,axisLabel:{fontFamily:sans,fontSize:17,color:'#000',margin:6,lineHeight:22,rich,formatter:tickFmt}});
  yAxis.push({...axisBase,gridIndex:i,axisLabel:{fontFamily:sans,fontSize:17,color:'#000',margin:7,lineHeight:22,rich,formatter:tickFmt}});
  const base={type:'scatter',xAxisIndex:i,yAxisIndex:i,silent:true,animation:false,large:false,clip:true,itemStyle:{color:'#000',opacity:1}};
  series.push({...base,name:panelNames[i]+' solid',symbol:'rect',symbolSize:[14,11],data:solidSets[i]});
  series.push({...base,name:panelNames[i]+' core',symbol:coreSymbols[i],symbolSize:coreSizes[i],symbolRotate:coreSymbols[i]==='circle'?0:rot,data:coreSets[i]});
  series.push({...base,name:panelNames[i]+' clump',symbol:cloudSymbol,symbolSize:26,symbolRotate:rot,data:clumpSets[i]});
  series.push({...base,name:panelNames[i]+' floor',symbol:'rect',symbolSize:[13,4],data:floorSets[i]});
  series.push({...base,name:panelNames[i]+' mid',symbolSize:midSizes[i],data:midSets[i]});
  series.push({...base,name:panelNames[i]+' dots',symbol:'rect',symbolSize:2,data:dotSets[i]});
  series.push({...base,name:panelNames[i]+' edge',symbol:'rect',symbolSize:[3,16],data:edgeSets[i]});
  series.push({...base,name:panelNames[i]+' notes',symbolSize:0,clip:false,
    data:notes.filter(n=>n[0]===i).map(n=>({value:[n[1],n[2]],label:{show:true,position:'inside',formatter:n[3],...noteStyle[n[4]]}})),
    markLine:{silent:true,animation:false,label:{show:false},lineStyle:{color:'#111',width:0.9,type:'solid',opacity:1},
      data:arrows.filter(a=>a[0]===i).map(a=>[
        {coord:[a[1],a[2]],symbol:'none'},
        {coord:[a[3],a[4]],symbol:'arrow',symbolSize:[15,24]}])}});
});

const gText=(x,y,text,size,rot)=>({type:'text',x,y,rotation:rot||0,
  style:{text,fontFamily:sans,fontSize:size,fill:'#000',textAlign:'center',textVerticalAlign:'middle'}});
const chart = echarts.init(document.getElementById('c'),null,{renderer:'canvas'});
chart.setOption({animation:false,backgroundColor:'#fff',grid,xAxis,yAxis,series,
  graphic:[
    gText(436,28,'English Channel',35),
    gText(437,866,'Equatorial Pacific',35),
    gText(25,219,'Green Fluorescence',25.5,Math.PI/2),
    gText(25,644,'Green Fluorescence',25.5,Math.PI/2),
    gText(25,1057,'Green Fluorescence',25.5,Math.PI/2),
    gText(240,1265,'Side Scatter',25.5),
    gText(679,1265,'Side Scatter',25.5)
  ]});
</script></body></html>
